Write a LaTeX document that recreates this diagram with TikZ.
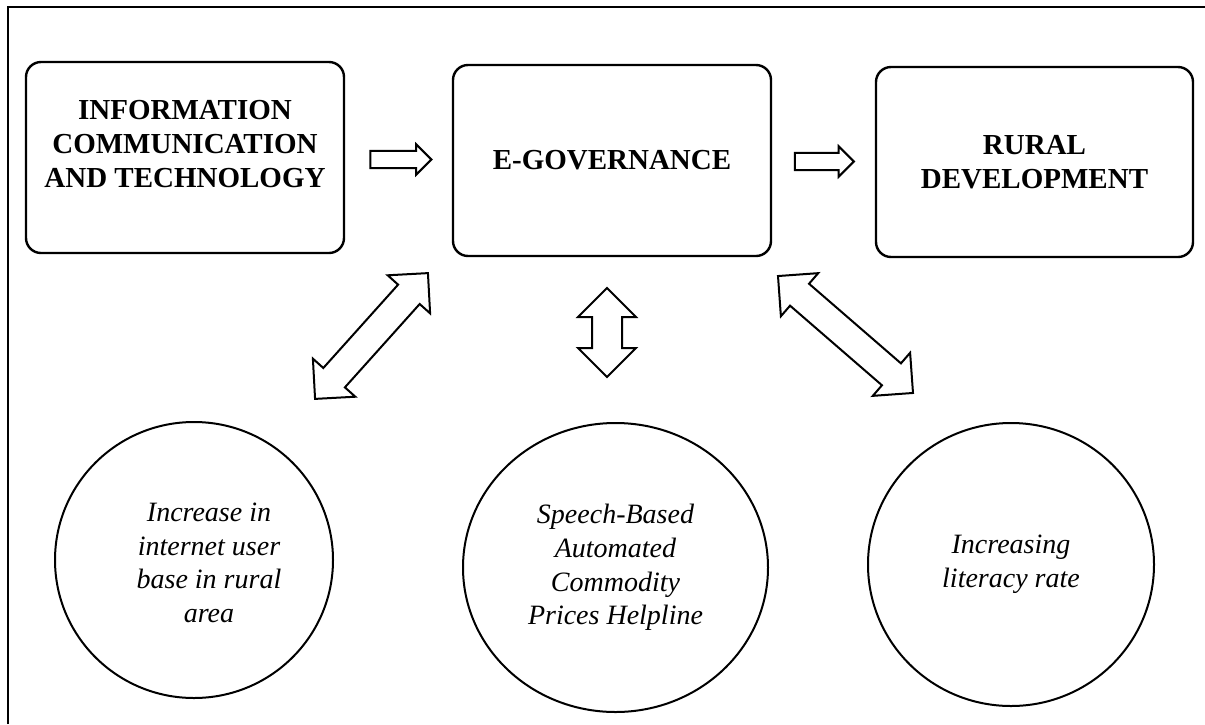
\documentclass[tikz,border=0pt]{standalone}
\usepackage{fontspec}
\setmainfont{Liberation Serif}
\usepackage{tikz}
\usetikzlibrary{shapes.geometric}
\usetikzlibrary{shapes.arrows}

\begin{document}
\begin{tikzpicture}[x=0.5pt,y=-0.5pt,
  boxtext/.style={align=center,inner sep=0pt,font=\fontsize{14.5}{17}\selectfont\bfseries},
  roundbox/.style={boxtext,draw,line width=1.2pt,rounded corners=7.5pt,minimum width=159pt,minimum height=95.5pt},
  ovaltext/.style={align=center,inner sep=0pt,font=\fontsize{14}{16.8}\selectfont\itshape},
  oval/.style={ovaltext,draw,ellipse,line width=1pt},
  fatarrow/.style={draw,single arrow,line width=1pt,inner xsep=0pt,inner ysep=3.85pt,single arrow head extend=3.25pt,minimum width=0pt},
  fatboth/.style={draw,double arrow,line width=1pt,inner xsep=0pt,inner ysep=7pt,double arrow head extend=7pt,minimum width=0pt}]
  \useasboundingbox (0,0) rectangle (1205,724);
  \draw[line width=1.25pt] (8,724) -- (8,7) -- (1205,7);
  \node[roundbox] (ict) at (185,157.5) {};
  \node[boxtext] (ictlabel) at (185,144) {INFORMATION\\COMMUNICATION\\AND TECHNOLOGY};
  \node[roundbox] (egov) at (612,160.5) {E-GOVERNANCE};
  \node[roundbox,minimum width=158.5pt,minimum height=95pt] (rural) at (1034.5,162) {RURAL\\DEVELOPMENT};
  \node[oval,minimum width=139pt,minimum height=138pt] (internet) at (194,560) {};
  \node[ovaltext] (internetlabel) at (209,563) {Increase in\\internet user\\base in rural\\area};
  \node[oval,minimum width=152.5pt,minimum height=144.5pt] (helpline) at (615.5,567.5) {Speech-Based\\Automated\\Commodity\\Prices Helpline};
  \node[oval,minimum width=143pt,minimum height=141.5pt] (literacy) at (1011,564.5) {Increasing\\literacy rate};
  \node[fatarrow,minimum height=30.5pt] (ictgov) at (396.5,159.5) {};
  \node[fatarrow,minimum height=29.5pt] (govrural) at (820,161.5) {};
  \node[fatboth,minimum height=44.5pt,rotate=90] (govhelp) at (607,332.5) {};
  \node[fatboth,minimum height=84.5pt,rotate=48.1,inner ysep=6.75pt] (govnet) at (371.5,336) {};
  \node[fatboth,minimum height=89.3pt,rotate=-40.9,inner ysep=6.75pt] (govlit) at (845.5,334.5) {};
\end{tikzpicture}
\end{document}
